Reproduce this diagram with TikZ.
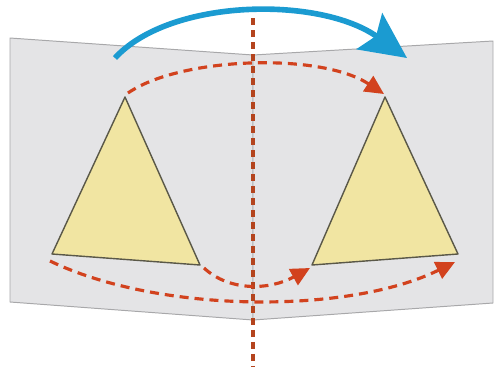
\documentclass[tikz,border=0pt]{standalone}
\usetikzlibrary{arrows.meta}

\definecolor{sheet}{HTML}{E4E4E6}
\definecolor{sheetedge}{HTML}{A8A8AA}
\definecolor{shapefill}{HTML}{F1E5A2}
\definecolor{shapeedge}{HTML}{5A5848}
\definecolor{turnblue}{HTML}{1B9BD1}
\definecolor{mapred}{HTML}{D2421E}
\definecolor{foldred}{HTML}{B4441E}

\tikzset{
    sheetpanel/.style={fill=sheet, draw=sheetedge, line width=1.4pt, line join=round},
    figure/.style={fill=shapefill, draw=shapeedge, line width=2pt, line join=round},
    maparrow/.style={mapred, line width=4.5pt, dash pattern=on 0.45cm off 0.3cm,
        -{Triangle[length=0.95cm, width=0.9cm]}},
}

\begin{document}
\begin{tikzpicture}[x=0.05cm, y=-0.05cm]
    \useasboundingbox (0,0) rectangle (497,367);

    \filldraw[sheetpanel] (10,38) -- (253,55) -- (253,320) -- (10,302) -- cycle;
    \filldraw[sheetpanel] (253,55) -- (493,41) -- (493,303) -- (253,320) -- cycle;

    \coordinate (lt) at (125,97);
    \coordinate (ll) at (52,254);
    \coordinate (lr) at (200,265);
    \coordinate (rt) at (385,97);
    \coordinate (rl) at (312,265);
    \coordinate (rr) at (458,254);

    \filldraw[figure] (lt) -- (lr) -- (ll) -- cycle;
    \filldraw[figure] (rt) -- (rr) -- (rl) -- cycle;

    \draw[foldred, line width=5pt, dash pattern=on 0.35cm off 0.25cm] (253,18) -- (253,367);

    \draw[maparrow] (128,93) .. controls (180,57) and (320,52) .. (384,94);
    \draw[maparrow] (204,268) .. controls (230,292) and (270,290) .. (310,268);
    \draw[maparrow] (50,261) .. controls (160,314) and (350,314) .. (455,262);

    \draw[turnblue, line width=8pt, -{Stealth[length=2.3cm, width=2.2cm, inset=0.4cm]}]
        (115,58) .. controls (170,-2) and (320,-4) .. (407,58);
\end{tikzpicture}
\end{document}
